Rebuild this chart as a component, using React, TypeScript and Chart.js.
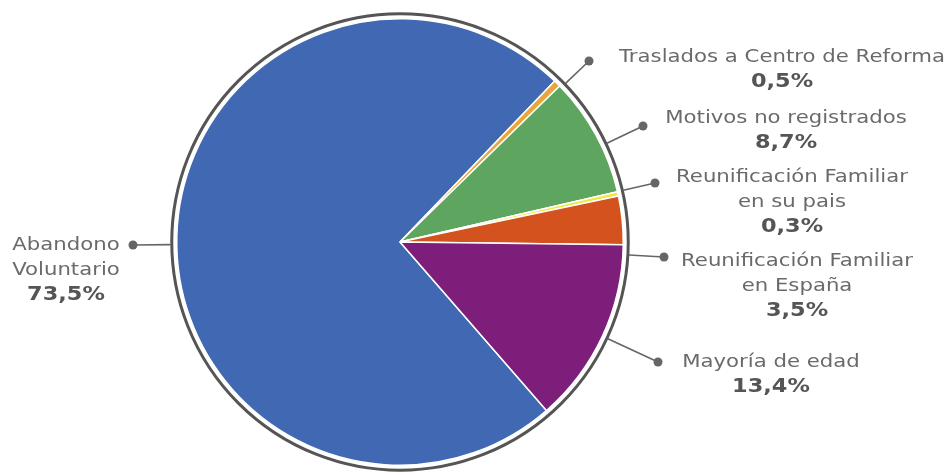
import React, { useEffect, useRef } from "react";
import { Chart, registerables } from "chart.js";

Chart.register(...registerables);

const categories = [
  "Abandono Voluntario",
  "Traslados a Centro de Reforma",
  "Motivos no registrados",
  "Reunificación Familiar en su pais",
  "Reunificación Familiar en España",
  "Mayoría de edad",
];
const values = [73.5, 0.5, 8.7, 0.3, 3.5, 13.4];
const labelLines = [
  ["Abandono", "Voluntario"],
  ["Traslados a Centro de Reforma"],
  ["Motivos no registrados"],
  ["Reunificación Familiar", "en su pais"],
  ["Reunificación Familiar", "en España"],
  ["Mayoría de edad"],
];
const colors = ["#4169b3", "#e9a63b", "#5ea55f", "#f3e63c", "#d4521d", "#7d1e7b"];

// layout of the callouts: dot position and text anchor (center x, first line y)
const calloutLayout = [
  { dot: [133, 245], text: [66, 245] },
  { dot: [589, 61], text: [782, 57] },
  { dot: [643, 126], text: [786, 118] },
  { dot: [655, 183], text: [792, 177] },
  { dot: [664, 257], text: [797, 261] },
  { dot: [658, 362], text: [771, 362] },
];

const fmt = (v: number) => v.toFixed(1).replace(".", ",") + "%";

const drawText = (ctx: CanvasRenderingContext2D, t: string, x: number, y: number) => {
  ctx.save();
  ctx.translate(x, y);
  ctx.scale(1.18, 1);
  ctx.fillText(t, 0, 0);
  ctx.restore();
};

const calloutPlugin = {
  id: "callouts",
  afterDatasetsDraw(chart: any) {
    const ctx = chart.ctx;
    const meta = chart.getDatasetMeta(0);
    const arc0 = meta.data[0] as any;
    const cx = arc0.x;
    const cy = arc0.y;
    const ringR = arc0.outerRadius + 5;
    ctx.save();
    // outer ring
    ctx.beginPath();
    ctx.arc(cx, cy, ringR, 0, Math.PI * 2);
    ctx.lineWidth = 3;
    ctx.strokeStyle = "#555555";
    ctx.stroke();

    const lineH = 25;
    values.forEach((v, i) => {
      const L = calloutLayout[i];
      const [dx, dy] = L.dot;
      const ang = Math.atan2(dy - cy, dx - cx);
      const sx = cx + Math.cos(ang) * (ringR + 1);
      const sy = cy + Math.sin(ang) * (ringR + 1);
      ctx.beginPath();
      ctx.moveTo(sx, sy);
      ctx.lineTo(dx, dy);
      ctx.lineWidth = 1.6;
      ctx.strokeStyle = "#666";
      ctx.stroke();
      ctx.beginPath();
      ctx.arc(dx, dy, 4.5, 0, Math.PI * 2);
      ctx.fillStyle = "#666";
      ctx.fill();

      const [tx, ty] = L.text;
      ctx.textAlign = "center";
      ctx.textBaseline = "middle";
      ctx.fillStyle = "#6a6a6a";
      ctx.font = "18px 'DejaVu Sans'";
      const lines = labelLines[i];
      lines.forEach((t, k) => drawText(ctx, t, tx, ty + k * lineH));
      ctx.font = "bold 19px 'DejaVu Sans'";
      ctx.fillStyle = "#555";
      drawText(ctx, fmt(v), tx, ty + lines.length * lineH);
    });
    ctx.restore();
  },
};

export default function App() {
  const ref = useRef<HTMLCanvasElement | null>(null);
  useEffect(() => {
    if (!ref.current) return;
    const chart = new Chart(ref.current, {
      type: "pie",
      data: {
        labels: categories,
        datasets: [
          {
            data: values,
            backgroundColor: colors,
            borderColor: "#ffffff",
            borderWidth: 1.5,
          },
        ],
      },
      options: {
        animation: false,
        responsive: true,
        maintainAspectRatio: false,
        rotation: 139,
        layout: { padding: { left: 176, right: 328, top: 17, bottom: 8 } },
        plugins: { legend: { display: false }, tooltip: { enabled: false } },
      },
      plugins: [calloutPlugin],
    });
    return () => chart.destroy();
  }, []);
  return (
    <div style={{ position: "fixed", left: 0, top: 0, width: 952, height: 475, background: "#fff" }}>
      <canvas ref={ref} />
    </div>
  );
}
